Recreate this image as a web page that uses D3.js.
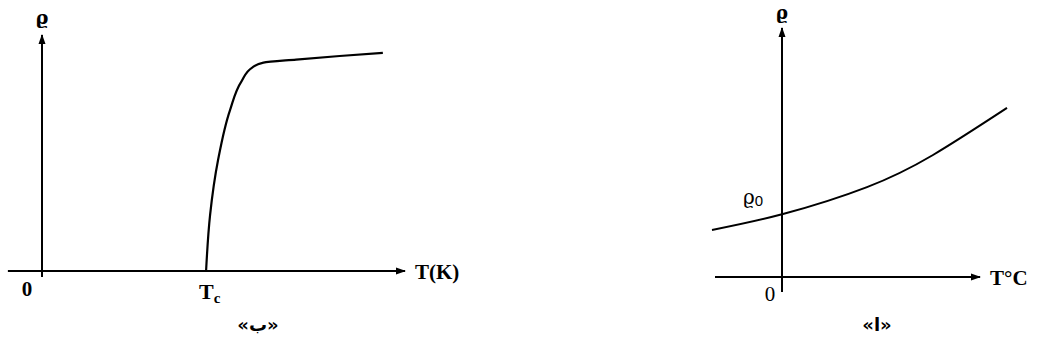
<!DOCTYPE html>
<html><head><meta charset="utf-8">
<script src="https://cdn.jsdelivr.net/npm/d3@7"></script>
<style>html,body{margin:0;padding:0;background:#fff;}svg{display:block;}</style>
</head><body>
<script>
// Left panel (ب): superconductor resistivity vs T(K)
const leftT   = [45.2, 46.3, 48.5, 51.8, 55.0, 58.0, 61.0, 70.0, 82.0, 93.9];
const leftRho = [0, 23.7, 47.0, 68.2, 80.5, 86.3, 88.3, 89.6, 91.1, 92.4];
const leftTc = 45.2;
// Right panel (ا): metal resistivity vs T°C
const rightT   = [-35, 0.5, 42.5, 75.5, 112.5];
const rightRho = [18.9, 25.3, 36.1, 49.0, 67.9];
const rightRho0 = 25.3;
const labels = {leftX: "T(K)", rightX: "T°C", y: "ϱ", zero: "0", leftCap: "«ب»", rightCap: "«ا»"};

const W = 1044, H = 349;
const svg = d3.select("body").append("svg").attr("width", W).attr("height", H);
const defs = svg.append("defs");
defs.append("marker").attr("id","arr").attr("viewBox","0 0 10 10").attr("refX",9).attr("refY",5)
  .attr("markerWidth",5).attr("markerHeight",5).attr("markerUnits","strokeWidth").attr("orient","auto")
  .append("path").attr("d","M0,1.5L10,5L0,8.5z").attr("fill","#000");

const serif = "'Liberation Serif','Times New Roman',serif";

// ---- Left panel ----
const xL = d3.scaleLinear().domain([0, 100]).range([42, 405]);
const yL = d3.scaleLinear().domain([0, 100]).range([271, 35]);
const gL = svg.append("g");
gL.append("line").attr("x1", xL(-9.4)).attr("x2", xL(100)).attr("y1", yL(0)).attr("y2", yL(0))
  .attr("stroke","#000").attr("stroke-width",2).attr("marker-end","url(#arr)");
gL.append("line").attr("x1", xL(0)).attr("x2", xL(0)).attr("y1", yL(-2.5)).attr("y2", yL(100))
  .attr("stroke","#000").attr("stroke-width",2).attr("marker-end","url(#arr)");
const lineL = d3.line().x((d,i)=>xL(leftT[i])).y((d,i)=>yL(leftRho[i])).curve(d3.curveMonotoneY);
gL.append("path").datum(leftT).attr("d", lineL).attr("fill","none").attr("stroke","#000").attr("stroke-width",2.2);
gL.append("text").attr("x", xL(100)+10).attr("y", yL(0)+8).text(labels.leftX)
  .attr("font-family", serif).attr("font-weight","bold").attr("font-size",21);
gL.append("text").attr("x", xL(0)-15).attr("y", yL(0)+25).text(labels.zero).attr("text-anchor","middle")
  .attr("font-family", serif).attr("font-weight","bold").attr("font-size",21);
const tc = gL.append("text").attr("x", xL(leftTc)-7).attr("y", yL(0)+28)
  .attr("font-family", serif).attr("font-weight","bold").attr("font-size",22);
tc.append("tspan").text("T");
tc.append("tspan").text("c").attr("font-size",15).attr("dy",4);
gL.append("text").attr("x", xL(0)).attr("y", 24).text(labels.y).attr("text-anchor","middle")
  .attr("font-family","'DejaVu Serif',serif").attr("font-weight","bold").attr("font-size",19);
gL.append("text").attr("x", 258).attr("y", 331).text(labels.leftCap).attr("text-anchor","middle")
  .attr("direction","rtl").attr("font-family","'DejaVu Sans',sans-serif").attr("font-weight","bold").attr("font-size",18);

// ---- Right panel ----
const xR = d3.scaleLinear().domain([0, 100]).range([782, 982]);
const yR = d3.scaleLinear().domain([0, 100]).range([277, 28]);
const gR = svg.append("g");
gR.append("line").attr("x1", xR(-33.5)).attr("x2", xR(99)).attr("y1", yR(0)).attr("y2", yR(0))
  .attr("stroke","#000").attr("stroke-width",2).attr("marker-end","url(#arr)");
gR.append("line").attr("x1", xR(0)).attr("x2", xR(0)).attr("y1", yR(-6)).attr("y2", yR(100))
  .attr("stroke","#000").attr("stroke-width",2).attr("marker-end","url(#arr)");
const lineR = d3.line().x((d,i)=>xR(rightT[i])).y((d,i)=>yR(rightRho[i])).curve(d3.curveNatural);
gR.append("path").datum(rightT).attr("d", lineR).attr("fill","none").attr("stroke","#000").attr("stroke-width",2);
gR.append("text").attr("x", xR(99)+10).attr("y", yR(0)+8).text(labels.rightX)
  .attr("font-family", serif).attr("font-weight","bold").attr("font-size",21);
gR.append("text").attr("x", xR(0)-12).attr("y", yR(0)+24).text(labels.zero).attr("text-anchor","middle")
  .attr("font-family", serif).attr("font-size",21);
const r0 = gR.append("text").attr("x", xR(-19.5)).attr("y", yR(rightRho0)-10)
  .attr("font-family","'DejaVu Serif',serif").attr("font-size",20);
r0.append("tspan").text(labels.y);
r0.append("tspan").text("0").attr("font-family","'Liberation Sans',sans-serif").attr("font-size",15).attr("dy",2);
gR.append("text").attr("x", xR(0)).attr("y", 19).text(labels.y).attr("text-anchor","middle")
  .attr("font-family","'DejaVu Serif',serif").attr("font-weight","bold").attr("font-size",18);
gR.append("text").attr("x", 877).attr("y", 331).text(labels.rightCap).attr("text-anchor","middle")
  .attr("direction","rtl").attr("font-family","'DejaVu Sans',sans-serif").attr("font-weight","bold").attr("font-size",18);
</script>
</body></html>
